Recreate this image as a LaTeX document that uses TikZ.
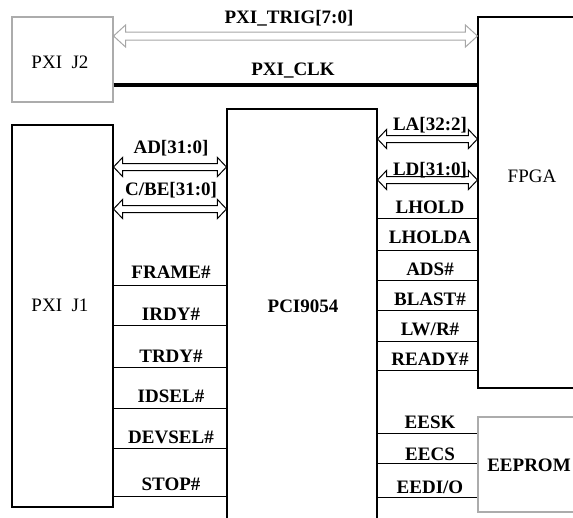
\documentclass[tikz,border=0pt]{standalone}
\usepackage{fontspec}
\setmainfont{Liberation Serif}
\usepackage{tikz}
\usetikzlibrary{arrows.meta, positioning, calc}

\begin{document}
\begin{tikzpicture}[
  x=1pt, y=-1pt,
  every node/.style={inner sep=0pt, text depth=0pt},
  sig/.style={font=\fontsize{19}{22}\selectfont\bfseries, anchor=base},
  ttl/.style={font=\fontsize{19}{22}\selectfont},
  box/.style={draw, line width=1.1pt},
  gbox/.style={draw=gray!65, line width=1.1pt},
  wire/.style={line width=0.9pt},
  bus/.style={line width=1pt, line join=miter},
  gbus/.style={bus, draw=gray!70},
  clk/.style={line width=3.6pt}
]
\useasboundingbox (0,0) rectangle (573,517);
\clip (0,0) rectangle (573,517);

%% blocks
\node[gbox, minimum width=101pt, minimum height=85pt]  (j2)   at (62.5,59.5)  {};
\node[box,  minimum width=101pt, minimum height=382pt] (j1)   at (62.5,316)   {};
\node[box,  minimum width=150pt, minimum height=451pt] (pci)  at (302,334.5)  {};
\node[box,  minimum width=142pt, minimum height=371pt] (fpga) at (549,202.5)  {};
\node[gbox, minimum width=142pt, minimum height=95pt]  (eep)  at (549,464.5)  {};

%% block names
\node[ttl] (j2txt)   at (60,62)   {PXI\enspace J2};
\node[ttl] (j1txt)   at (60,305)  {PXI\enspace J1};
\node[ttl, font=\fontsize{19}{22}\selectfont\bfseries] (pcitxt) at (303,306) {PCI9054};
\node[ttl] (fpgatxt) at (532,176) {FPGA};
\node[ttl, font=\fontsize{19}{22}\selectfont\bfseries] (eeptxt) at (529,465) {EEPROM};

%% PXI J2 -- FPGA (hollow bus arrow, head 12 long, 11 half high, shaft 4 half gap)
\draw[gbus] (j2.east |- 0,36) -- ++(12,-11) -- ++(0,7)
  -- ($(fpga.west |- 0,36)+(-12,-4)$) -- ++(0,-7) -- (fpga.west |- 0,36)
  -- ++(-12,11) -- ++(0,-7) -- ($(j2.east |- 0,36)+(12,4)$) -- ++(0,7) -- cycle;
\draw[clk]  (j2.east |- 0,85) -- (fpga.west |- 0,85);
\node[sig] (trig) at (289,23) {PXI\_TRIG[7:0]};
\node[sig] (pclk) at (293,75) {PXI\_CLK};

%% bus arrows
\foreach \a/\b/\ly in {j1/pci/167, j1/pci/209, pci/fpga/139, pci/fpga/180} {
  \draw[bus] (\a.east |- 0,\ly) -- ++(9,-9.5) -- ++(0,6)
    -- ($(\b.west |- 0,\ly)+(-9,-3.5)$) -- ++(0,-6) -- (\b.west |- 0,\ly)
    -- ++(-9,9.5) -- ++(0,-6) -- ($(\a.east |- 0,\ly)+(9,3.5)$) -- ++(0,6) -- cycle;
}

%% PXI J1 -- PCI9054
\foreach \ly/\ty/\t in {167/153/{AD[31:0]}, 209/195/{C/BE[31:0]}}
  \node[sig] (l\ly) at (171,\ty) {\t};
\foreach \ly/\ty/\t in {285/278/FRAME\#, 325/320/IRDY\#, 367/362/TRDY\#,
                        408/402/IDSEL\#, 448/443/DEVSEL\#, 496/490/STOP\#} {
  \draw[wire] (j1.east |- 0,\ly) -- (pci.west |- 0,\ly);
  \node[sig] (l\ly) at (171,\ty) {\t};
}

%% PCI9054 -- FPGA
\foreach \ly/\ty/\t in {139/130/{LA[32:2]}, 180/175/{LD[31:0]}}
  \node[sig] (r\ly) at (430,\ty) {\t};
\foreach \ly/\ty/\t in {218/213/LHOLD, 250/243/LHOLDA, 280/275/ADS\#,
                        310/305/BLAST\#, 341/335/{LW/R\#}, 370/365/READY\#} {
  \draw[wire] (pci.east |- 0,\ly) -- (fpga.west |- 0,\ly);
  \node[sig] (r\ly) at (430,\ty) {\t};
}

%% PCI9054 -- EEPROM
\foreach \ly/\ty/\t in {433/428/EESK, 463/460/EECS, 497/493/{EEDI/O}} {
  \draw[wire] (pci.east |- 0,\ly) -- (eep.west |- 0,\ly);
  \node[sig] (r\ly) at (430,\ty) {\t};
}
\end{tikzpicture}
\end{document}
